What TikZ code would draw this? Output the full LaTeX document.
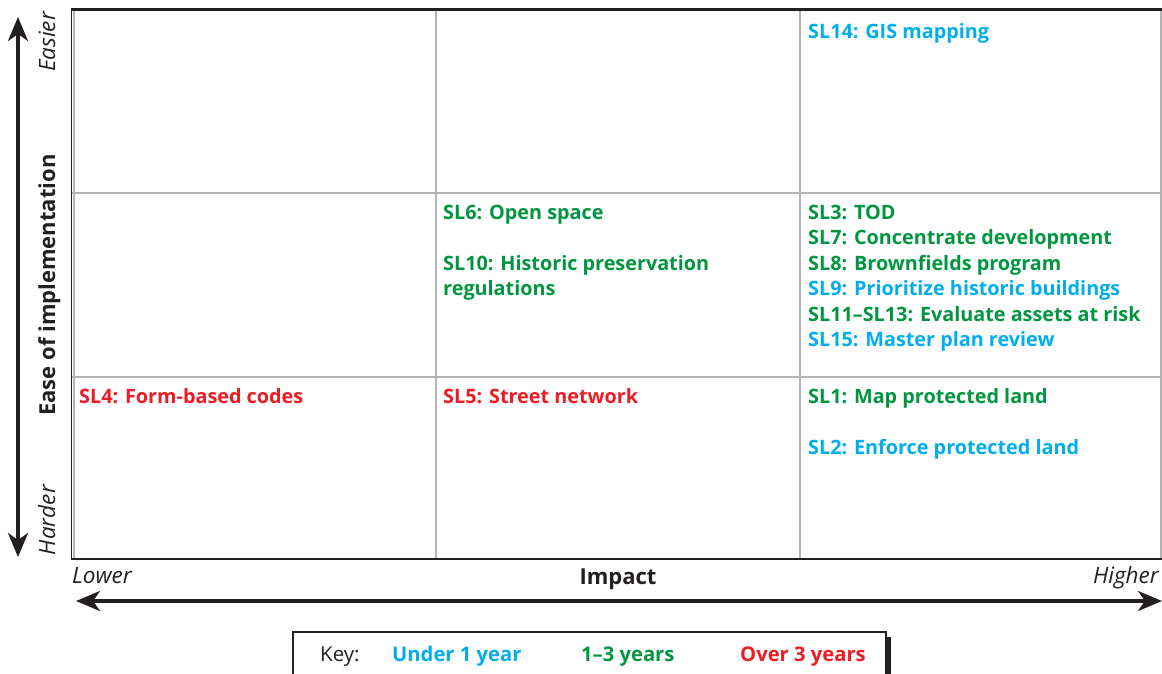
\documentclass[tikz,border=0pt]{standalone}
\usepackage{fontspec}
\setmainfont{Open Sans}
\usetikzlibrary{arrows.meta}
\definecolor{ucyan}{HTML}{00AEEF}
\definecolor{ugreen}{HTML}{00963F}
\definecolor{ured}{HTML}{ED1C24}
\definecolor{gridgray}{HTML}{B3B3B3}
\definecolor{ink}{HTML}{231F20}
\tikzset{
  item/.style={anchor=base west, inner sep=0pt, font=\fontsize{19.8}{22}\selectfont\bfseries},
  cy/.style={item, text=ucyan},
  gr/.style={item, text=ugreen},
  rd/.style={item, text=ured},
  axislabel/.style={inner sep=0pt, font=\fontsize{22}{24}\selectfont\bfseries, text=ink},
  endlabel/.style={inner sep=0pt, font=\fontsize{22.5}{24}\selectfont\itshape, text=ink},
  gridline/.style={draw=gridgray, line width=2pt},
  frame/.style={draw=ink, line width=2.5pt},
  axisarrow/.style={draw=ink, line width=3.5pt, {Stealth[length=24pt,width=20pt,inset=7pt]}-{Stealth[length=24pt,width=20pt,inset=7pt]}},
  keytext/.style={anchor=base west, inner sep=0pt, font=\fontsize{20.5}{22}\selectfont},
  keyitem/.style={anchor=base west, inner sep=0pt, font=\fontsize{20.2}{22}\selectfont\bfseries},
}
\begin{document}
\begin{tikzpicture}[x=1pt,y=-1pt]
\useasboundingbox (0,0) rectangle (1162,673);
\clip (0,0) rectangle (1162,673);
% grid
\draw[gridline] (436,10) -- (436,559);
\draw[gridline] (800,10) -- (800,559);
\draw[gridline] (72,193) -- (1161,193);
\draw[gridline] (72,377) -- (1161,377);
\draw[draw=gridgray, line width=1.5pt] (1161,10) -- (1161,559);
\draw[draw=gridgray, line width=2pt] (73.5,10) -- (73.5,559);
\draw[draw=ink, line width=1.8pt] (71.5,9) -- (71.5,560);
\draw[frame] (70.5,9.5) -- (1162,9.5);
\draw[frame] (70.5,559) -- (1162,559);
% vertical axis
\coordinate (vtop) at (18,17);
\coordinate (vbot) at (18,557);
\draw[axisarrow] (vbot) -- (vtop);
\node[axislabel, rotate=90, anchor=base] (ease) at (55,285) {Ease of implementation};
\node[endlabel, rotate=90, anchor=base] (easier) at (55,42) {Easier};
\node[endlabel, rotate=90, anchor=base] (harder) at (55,520) {Harder};
% horizontal axis
\coordinate (hleft) at (76,601);
\coordinate (hright) at (1162,601);
\draw[axisarrow] (hleft) -- (hright);
\node[endlabel, anchor=base west] (lower) at (72,583) {Lower};
\node[endlabel, anchor=base east] (higher) at (1159,583) {Higher};
\node[axislabel, anchor=base] (impact) at (618,584) {Impact};
% items
\node[cy] (sl14) at (808,38) {SL14: GIS mapping};
\node[gr] (sl6) at (443,219) {SL6: Open space};
\node[gr] (sl10) at (443,270) {SL10: Historic preservation};
\node[gr] (sl10b) at (443,295.5) {regulations};
\node[gr] (sl3) at (808,219) {SL3: TOD};
\node[gr] (sl7) at (808,244.5) {SL7: Concentrate development};
\node[gr] (sl8) at (808,270) {SL8: Brownfields program};
\node[cy] (sl9) at (808,295.5) {SL9: Prioritize historic buildings};
\node[gr] (sl11) at (808,321) {SL11–SL13: Evaluate assets at risk};
\node[cy] (sl15) at (808,346.5) {SL15: Master plan review};
\node[rd] (sl4) at (79,403) {SL4: Form-based codes};
\node[rd] (sl5) at (443,403) {SL5: Street network};
\node[gr] (sl1) at (808,403) {SL1: Map protected land};
\node[cy] (sl2) at (808,454.5) {SL2: Enforce protected land};
% key
\draw[draw=ink, line width=5pt] (888,637) -- (888,676);
\draw[draw=ink, line width=1.2pt, fill=white] (293,676) -- (293,632) -- (886,632) -- (886,676);
\node[keytext, text=ink] (key) at (320,661) {Key:};
\node[keyitem, text=ucyan] (k1) at (392,661) {Under 1 year};
\node[keyitem, text=ugreen] (k2) at (581,661) {1–3 years};
\node[keyitem, text=ured] (k3) at (740,661) {Over 3 years};
\end{tikzpicture}
\end{document}
